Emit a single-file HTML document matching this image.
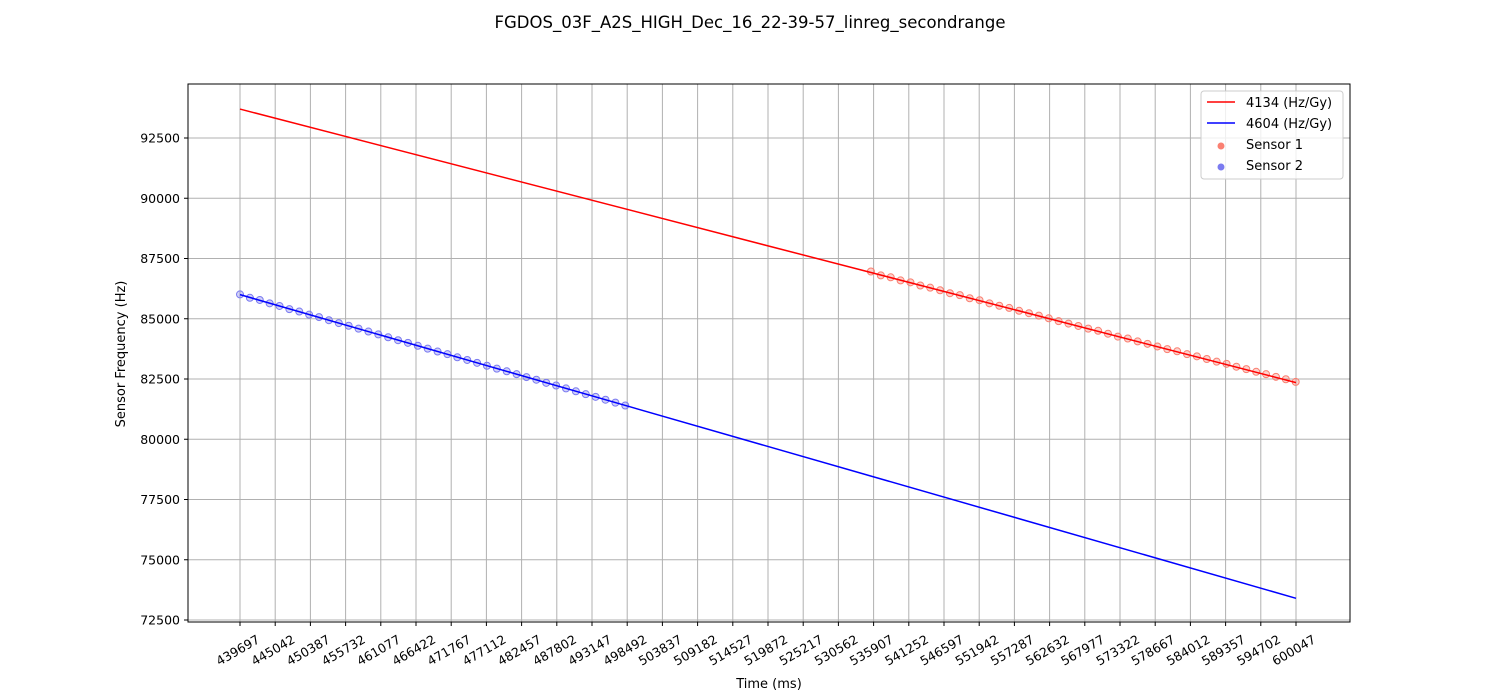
<!DOCTYPE html>
<html><head><meta charset="utf-8"><style>
body{margin:0;background:#fff;}
svg{display:block;font-family:"DejaVu Sans","Liberation Sans",sans-serif;}
</style></head><body>
<svg id="chart" width="1500" height="700">
<text x="750" y="28" text-anchor="middle" font-size="16.5">FGDOS_03F_A2S_HIGH_Dec_16_22-39-57_linreg_secondrange</text>
<g id="grid"></g><g id="marks"></g><g id="axes"></g>
<rect x="188" y="84" width="1162" height="538" fill="none" stroke="#000" stroke-width="1"/>
<text x="769" y="688" text-anchor="middle" font-size="13">Time (ms)</text>
<text transform="translate(125,354) rotate(-90)" text-anchor="middle" font-size="13">Sensor Frequency (Hz)</text>
<g>
<rect x="1201" y="91" width="142" height="88" rx="3" fill="#fff" fill-opacity="0.8" stroke="#ccc"/>
<line x1="1207" y1="102" x2="1235" y2="102" stroke="#f00" stroke-width="1.5"/>
<text x="1246" y="107" font-size="13">4134 (Hz/Gy)</text>
<line x1="1207" y1="123" x2="1235" y2="123" stroke="#00f" stroke-width="1.5"/>
<text x="1246" y="128" font-size="13">4604 (Hz/Gy)</text>
<circle cx="1221" cy="146" r="3.5" fill="#fa8072"/>
<text x="1246" y="149" font-size="13">Sensor 1</text>
<circle cx="1221" cy="167" r="3.5" fill="#7b7bf0"/>
<text x="1246" y="170" font-size="13">Sensor 2</text>
</g>
</svg>
<script>
const xTicks=[439697,445042,450387,455732,461077,466422,471767,477112,482457,487802,493147,498492,503837,509182,514527,519872,525217,530562,535907,541252,546597,551942,557287,562632,567977,573322,578667,584012,589357,594702,600047];
const yTicks=[72500,75000,77500,80000,82500,85000,87500,90000,92500];
const fitTime=[439697,600047];
const fit1=[93700,82350];
const fit2=[86000,73400];
const s1Start=535500, s2Start=439697, step=1500;
const s1Freq=[86960,86800,86720,86590,86510,86380,86290,86180,86060,85980,85850,85770,85640,85540,85450,85330,85230,85130,85020,84900,84800,84700,84590,84500,84380,84260,84180,84060,83960,83850,83740,83650,83530,83440,83330,83220,83130,83010,82910,82800,82700,82590,82490,82380];
const s2Freq=[86010,85870,85780,85640,85530,85400,85300,85170,85070,84940,84820,84710,84590,84470,84350,84230,84110,84000,83880,83760,83640,83530,83400,83290,83170,83050,82930,82820,82700,82580,82470,82340,82230,82110,81990,81870,81760,81640,81520,81400];

const NS="http://www.w3.org/2000/svg";
const X=t=>240+(t-439697)*(1296-240)/(600047-439697);
const Y=v=>620-(v-72500)*(620-138)/20000;
function mk(tag,a,p){const e=document.createElementNS(NS,tag);for(const k in a)e.setAttribute(k,a[k]);p.appendChild(e);return e;}
const grid=document.getElementById('grid'),axes=document.getElementById('axes'),marks=document.getElementById('marks');
xTicks.forEach(t=>{const x=X(t);
 const g=mk('line',{x1:x,x2:x,y1:84,y2:622,stroke:'#b0b0b0','stroke-width':1},grid);
 
 
 mk('line',{x1:x,x2:x,y1:622,y2:626,stroke:'#000'},axes);
 const tx=mk('text',{transform:`translate(${x},${654}) rotate(-30)`,'text-anchor':'middle','font-size':12.5},axes);
 tx.textContent=t;
 
 
});
yTicks.forEach(v=>{const y=Y(v);
 const g=mk('line',{x1:188,x2:1350,y1:y,y2:y,stroke:'#b0b0b0','stroke-width':1},grid);
 
 
 mk('line',{x1:184,x2:188,y1:y,y2:y,stroke:'#000'},axes);
 const tx=mk('text',{x:180,y:y+4.5,'text-anchor':'end','font-size':12.5},axes);
 tx.textContent=v;
 
 
});
s1Freq.forEach((v,i)=>{const c=mk('circle',{cx:X(s1Start+i*step),cy:Y(v),r:3.5,fill:'#fa8072','fill-opacity':0.35,stroke:'#fa8072','stroke-width':1},marks);
 
 });
s2Freq.forEach((v,i)=>{const c=mk('circle',{cx:X(s2Start+i*step),cy:Y(v),r:3.5,fill:'#7b7bf0','fill-opacity':0.35,stroke:'#7b7bf0','stroke-width':1},marks);
 
 });
const l1=mk('line',{x1:X(fitTime[0]),y1:Y(fit1[0]),x2:X(fitTime[1]),y2:Y(fit1[1]),stroke:'#f00','stroke-width':1.5},marks);


const l2=mk('line',{x1:X(fitTime[0]),y1:Y(fit2[0]),x2:X(fitTime[1]),y2:Y(fit2[1]),stroke:'#00f','stroke-width':1.5},marks);


</script>
</body></html>
